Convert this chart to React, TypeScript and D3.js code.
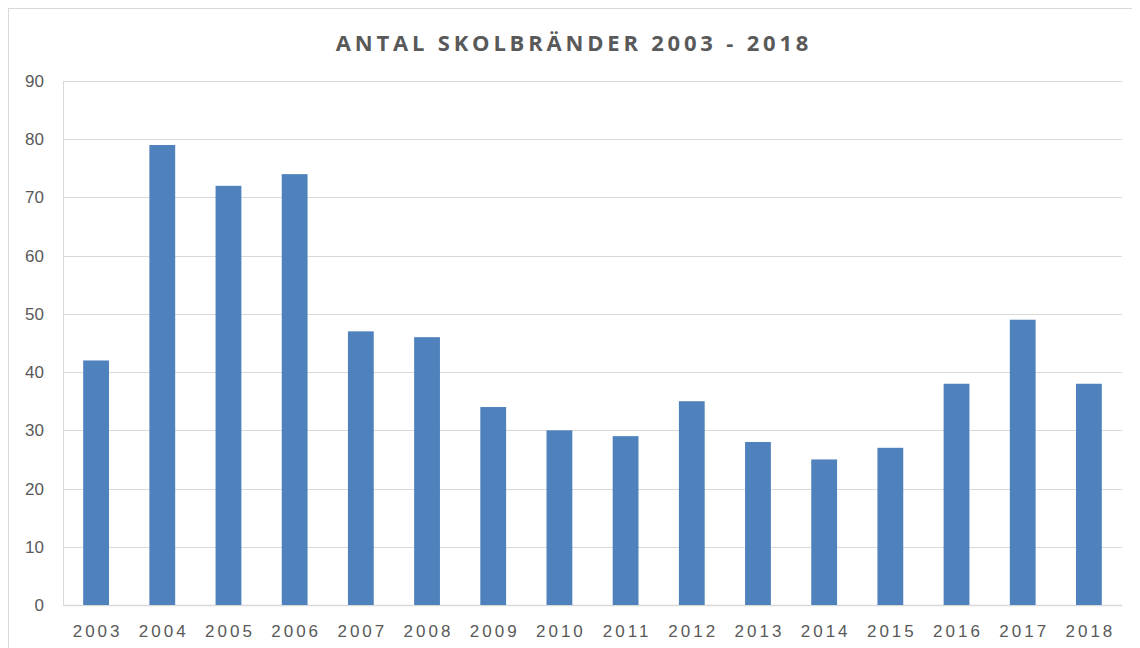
import React from "react";
import * as d3 from "d3";

const years = ["2003","2004","2005","2006","2007","2008","2009","2010","2011","2012","2013","2014","2015","2016","2017","2018"];
const fires = [42, 79, 72, 74, 47, 46, 34, 30, 29, 35, 28, 25, 27, 38, 49, 38];
const yTicks = [0, 10, 20, 30, 40, 50, 60, 70, 80, 90];
const title = "ANTAL SKOLBRÄNDER 2003 - 2018";

export default function App() {
  const W = 1132, H = 660;
  const ox = 8, oy = 8; // svg offset on page
  const left = 63 - ox, right = 1122 - ox, top = 81 - oy, bottom = 605 - oy;
  const x = d3.scaleBand().domain(years).range([left, right]).paddingInner(0.61).paddingOuter(0.305);
  const y = d3.scaleLinear().domain([0, 90]).range([bottom, top]);
  const txt = "#595959";
  return (
    <svg width={W} height={H} style={{ display: "block" }}>
      <rect x={0.5} y={0.5} width={W - 1} height={H - 1} fill="#fff" stroke="#d9d9d9" />
      <text x={574 - ox} y={51 - oy} textAnchor="middle" fill={txt}
        style={{ fontFamily: "'Open Sans', sans-serif", fontWeight: 700, fontSize: 22, letterSpacing: 3.8 }}>{title}</text>
      {yTicks.map(t => (
        <g key={t}>
          <line x1={left} x2={right} y1={Math.round(y(t)) + 0.5} y2={Math.round(y(t)) + 0.5}
            stroke="#d9d9d9" strokeWidth={t === 0 ? 1.5 : 1} />
          <text x={left - 19} y={y(t) + 6} textAnchor="end" fill={txt}
            style={{ fontFamily: "'Liberation Sans', Arial, sans-serif", fontSize: 17 }}>{t}</text>
        </g>
      ))}
      <line x1={left + 0.5} x2={left + 0.5} y1={top} y2={bottom} stroke="#d9d9d9" />
      {years.map((yr, i) => (
        <rect key={yr} x={x(yr)} y={y(fires[i])} width={x.bandwidth()} height={y(0) - y(fires[i])} fill="#4f81bd" />
      ))}
      {years.map(yr => (
        <text key={yr} x={(x(yr) as number) + x.bandwidth() / 2 + 1.5} y={bottom + 32} textAnchor="middle" fill={txt}
          style={{ fontFamily: "'Liberation Sans', Arial, sans-serif", fontSize: 17, letterSpacing: 3 }}>{yr}</text>
      ))}
    </svg>
  );
}
